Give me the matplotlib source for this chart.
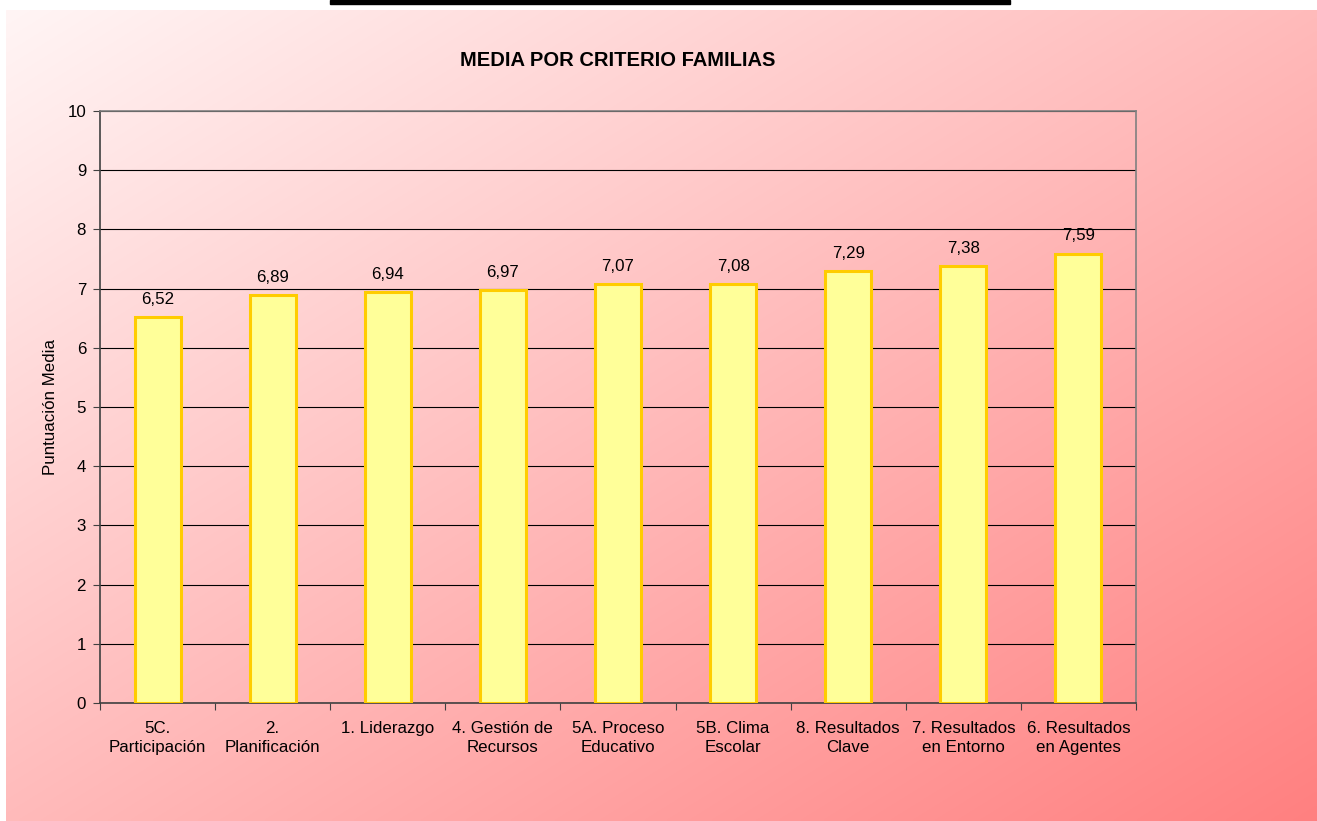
"""Bar chart: media por criterio (familias)"""

import numpy as np
import matplotlib.pyplot as plt

criterios = ['5C.\nParticipación', '2.\nPlanificación', '1. Liderazgo',
             '4. Gestión de\nRecursos', '5A. Proceso\nEducativo',
             '5B. Clima\nEscolar', '8. Resultados\nClave',
             '7. Resultados\nen Entorno', '6. Resultados\nen Agentes']
medias = [6.52, 6.89, 6.94, 6.97, 7.07, 7.08, 7.29, 7.38, 7.59]

W, H = 1317, 821
plt.rcParams['font.family'] = ['Liberation Sans', 'DejaVu Sans']
fs = 12.2

fig = plt.figure(figsize=(W / 100, H / 100), dpi=100)
fig.patch.set_facecolor('white')

# background panel with diagonal gradient
bg = fig.add_axes([6 / W, 0, 1 - 6 / W, 1 - 10 / H])
bg.set_axis_off()
nx, ny = 400, 250
gx, gy = np.meshgrid(np.linspace(0, 1, nx), np.linspace(0, 1, ny))
t = (gx + gy) / 2
c0 = np.array([255, 245, 245]) / 255
c1 = np.array([255, 128, 128]) / 255
img = c0[None, None, :] + t[..., None] * (c1 - c0)[None, None, :]
bg.imshow(img, aspect='auto', extent=[0, 1, 1, 0], interpolation='bilinear')
bg.set_xlim(0, 1)
bg.set_ylim(1, 0)

# black strip at the top
fig.add_artist(plt.Rectangle((330 / W, 1 - 4 / H), 680 / W, 4 / H,
                             transform=fig.transFigure, color='black'))

ax = fig.add_axes([100 / W, 1 - 703 / H, 1036 / W, 592 / H])
ax.set_facecolor('none')
x = np.arange(len(criterios))
ax.bar(x, medias, width=0.4, color='#FFFF99', edgecolor='#FFCC00',
       linewidth=2.2, zorder=3)
for xi, v in zip(x, medias):
    ax.text(xi, v + 0.3, ('%.2f' % v).replace('.', ','), ha='center',
            va='center', fontsize=fs, color='black', zorder=4)

ax.set_xlim(-0.5, len(criterios) - 0.5)
ax.set_ylim(0, 10)
ax.set_yticks(range(11))
ax.yaxis.grid(True, color='black', linewidth=0.8, zorder=0)
ax.set_axisbelow(True)
ax.set_xticks(np.arange(len(criterios) + 1) - 0.5)
ax.set_xticklabels([])
ax.set_xticks(x, minor=True)
ax.set_xticklabels(criterios, minor=True, fontsize=fs, linespacing=1.3)
ax.tick_params(axis='x', which='minor', length=0, pad=13)
ax.tick_params(axis='x', which='major', length=5, direction='out',
               color='#404040')
ax.tick_params(axis='y', length=5, direction='out', color='#404040',
               labelsize=fs, pad=5)
for s in ('left', 'bottom'):
    ax.spines[s].set_color('#404040')
    ax.spines[s].set_linewidth(1.2)
for s in ('top', 'right'):
    ax.spines[s].set_color('#808080')
    ax.spines[s].set_linewidth(1.2)

ax.set_ylabel('Puntuación Media', fontsize=fs, labelpad=7)
fig.text(618 / W, 1 - 60 / H, 'MEDIA POR CRITERIO FAMILIAS', ha='center',
         va='center', fontsize=14.5, fontweight='bold')

fig.savefig('out.png', dpi=100)
